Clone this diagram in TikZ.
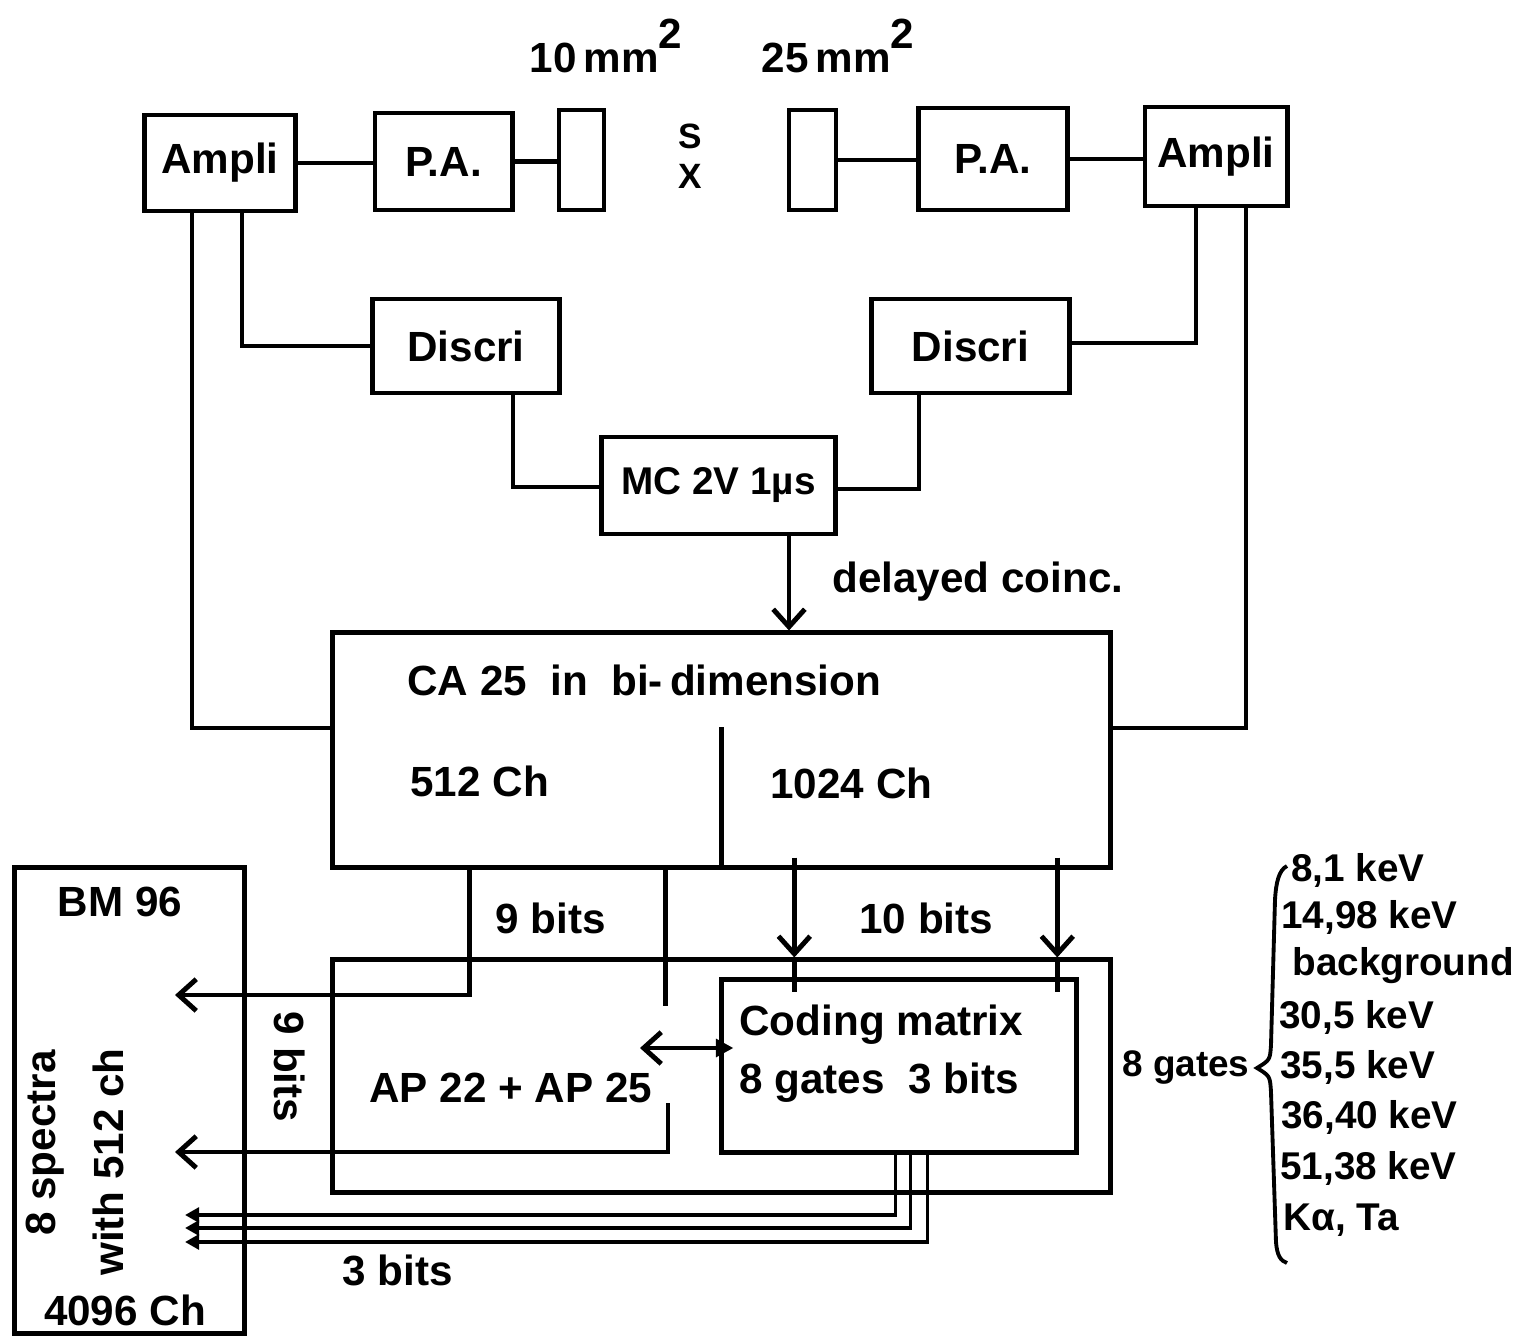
\documentclass[tikz,border=0pt]{standalone}
\usepackage{fontspec}
\setmainfont{Liberation Sans}
\usetikzlibrary{arrows.meta,calc}
\begin{document}
\begin{tikzpicture}[x=0.01cm,y=-0.01cm, line width=1.4pt,
  every node/.style={font=\fontsize{12}{14}\selectfont\bfseries},
  blk/.style={draw, line width=1.4pt, inner sep=0pt},
  lbl/.style={inner sep=0pt, anchor=west},
  lst/.style={inner sep=0pt, anchor=west, font=\fontsize{11}{13}\selectfont\bfseries},
  barb/.style={-{Straight Barb[length=5pt,width=9pt,line width=1.4pt]}},
  tri/.style={-{Triangle[length=4pt,width=4.2pt]}, line width=1.1pt},
  dbl/.style={{Straight Barb[length=5pt,width=9pt,line width=1.4pt]}-{Triangle[length=5pt,width=5pt]}},
]
\useasboundingbox (0,0) rectangle (1526,1336);

% boxes
\node[blk, minimum width=1.50cm, minimum height=0.96cm] (ampL) at (220,163) {Ampli};
\node[blk, minimum width=1.37cm, minimum height=0.97cm] (paL) at (443.5,161.5) {P.A.};
\node[blk, minimum width=0.45cm, minimum height=1.00cm] (detL) at (581.5,160) {};
\node[blk, minimum width=0.47cm, minimum height=1.00cm] (detR) at (812.5,160) {};
\node[blk, minimum width=1.48cm, minimum height=1.02cm] (paR) at (993,159) {P.A.};
\node[blk, minimum width=1.42cm, minimum height=0.99cm] (ampR) at (1216,156.5) {Ampli};
\node[blk, minimum width=1.86cm, minimum height=0.94cm] (discL) at (466,346) {Discri};
\node[blk, minimum width=1.97cm, minimum height=0.94cm] (discR) at (970.5,346) {Discri};
\node[blk, minimum width=2.33cm, minimum height=0.97cm, font=\fontsize{11}{13}\selectfont\bfseries] (mc) at (718.5,485.5) {MC 2V 1µs};
\node[blk, minimum width=7.77cm, minimum height=2.34cm] (ca) at (721.5,750) {};
\node[blk, minimum width=7.77cm, minimum height=2.32cm] (ap) at (721.5,1076) {};
\node[blk, minimum width=3.54cm, minimum height=1.72cm, fill=white] (cm) at (899,1066) {};
\node[blk, minimum width=2.29cm, minimum height=4.65cm] (bm) at (129.5,1100.5) {};

% texts
\node (t10) at (606,46) {10\,mm\raisebox{.55em}{2}};
\node (t25) at (838,46) {25\,mm\raisebox{.55em}{2}};
\node[font=\fontsize{10}{12}\selectfont\bfseries, inner sep=0pt] (srcS) at (690,136) {S};
\node[font=\fontsize{10}{12}\selectfont\bfseries, inner sep=0pt] (srcX) at (690,176) {X};
\node[lbl] (dc) at (830,582) {delayed coinc.};
\node[lbl] (cat) at (405,680) {CA 25\ \ in\ \ bi-\,dimension};
\node[lbl] (c512) at (408,781) {512 Ch};
\node[lbl] (c1024) at (768,783) {1024 Ch};
\node[lbl] (b9) at (493,918) {9 bits};
\node[lbl] (b10) at (857,918) {10 bits};
\node[rotate=-90] (b9v) at (290,1067) {9 bits};
\node[lbl] (b3) at (340,1270) {3 bits};
\node (bmt) at (120,902) {BM 96};
\node (bmc) at (125,1310) {4096 Ch};
\node[rotate=90] (sp1) at (45,1143) {8 spectra};
\node[rotate=90] (sp2) at (108,1162) {with 512 ch};
\node[lbl] (apt) at (367,1088) {AP 22 + AP 25};
\node[lbl] (cmt1) at (737,1025) {Coding matrix};
\node[lbl] (cmt2) at (737,1083) {8 gates\ \ 3 bits};
\node[inner sep=0pt, anchor=east, font=\fontsize{10.5}{12}\selectfont\bfseries] (g8) at (1252,1068) {8 gates};
\node[lst] (l1) at (1289,870) {8,1 keV};
\node[lst] (l2) at (1279,917) {14,98 keV};
\node[lst] (l3) at (1290,966) {background};
\node[lst] (l4) at (1277,1017) {30,5 keV};
\node[lst] (l5) at (1278,1067) {35,5 keV};
\node[lst] (l6) at (1279,1117) {36,40 keV};
\node[lst] (l7) at (1278,1168) {51,38 keV};
\node[lst] (l8) at (1281,1220) {Kα, Ta};

% brace
\draw[line width=1.1pt] (1287,866) .. controls (1279,870) and (1276,882) .. (1275,900)
  -- (1271,1045) .. controls (1270,1060) .. (1257,1068)
  .. controls (1270,1076) .. (1271,1092) -- (1276,1242)
  .. controls (1277,1256) and (1281,1261) .. (1287,1263);

% top chain
\draw (ampL.east) -- (ampL.east -| paL.west);
\draw (paL.east) -- (paL.east -| detL.west);
\draw (detR.east) -- (detR.east -| paR.west);
\draw (paR.east) -- (paR.east -| ampR.west);

% amplis to discri and CA
\draw ($(ampL.south)+(22,0)$) |- (discL.west);
\draw ($(ampL.south)+(-28,0)$) |- ($(ca.west)+(0,-22)$);
\draw ($(ampR.south)+(-20,0)$) |- ($(discR.east)+(0,-3)$);
\draw ($(ampR.south)+(30,0)$) |- ($(ca.east)+(0,-22)$);

% discri to MC
\draw ($(discL.south)+(47,0)$) |- ($(mc.west)+(0,1.5)$);
\draw ($(discR.south)+(-51.5,0)$) |- ($(mc.east)+(0,3.5)$);

% MC to CA
\coordinate (m1) at ($(mc.south)+(70.5,0)$);
\draw[barb] (m1) -- (m1 |- ca.north);

% CA divider
\draw ($(ca.south west)+(391,0)$) -- ++(0,-143);

% 9 bits to BM
\coordinate (p9) at ($(ca.south west)+(139,0)$);
\coordinate (e9) at (175,995);
\draw[barb] (p9) |- (e9);
\coordinate (q1) at ($(ca.south west)+(335,0)$);
\draw (q1) -- ++(0,136);
\coordinate (q2) at (668,1103);
\coordinate (e8) at (175,1152);
\draw[barb] (q2) |- (e8);

% 10 bits into coding matrix
\coordinate (r1) at ($(ca.south west)+(464,-12)$);
\coordinate (r2) at ($(ca.south west)+(727,-12)$);
\draw[barb] (r1) -- (r1 |- ap.north);
\draw (r1 |- ap.north) -- ++(0,35);
\draw[barb] (r2) -- (r2 |- ap.north);
\draw (r2 |- ap.north) -- ++(0,35);

% double arrow
\coordinate (dl) at (640,1048);
\draw[dbl] (dl) -- ($(dl -| cm.west)+(14,0)$);

% 3 bits
\coordinate (c1) at ($(cm.south west)+(176,0)$);
\coordinate (c2) at ($(cm.south west)+(191,0)$);
\coordinate (c3) at ($(cm.south west)+(208,0)$);
\coordinate (f1) at (185,1215);
\coordinate (f2) at (185,1228);
\coordinate (f3) at (185,1242);
\draw[tri] (c1) |- (f1);
\draw[tri] (c2) |- (f2);
\draw[tri] (c3) |- (f3);
\end{tikzpicture}
\end{document}
